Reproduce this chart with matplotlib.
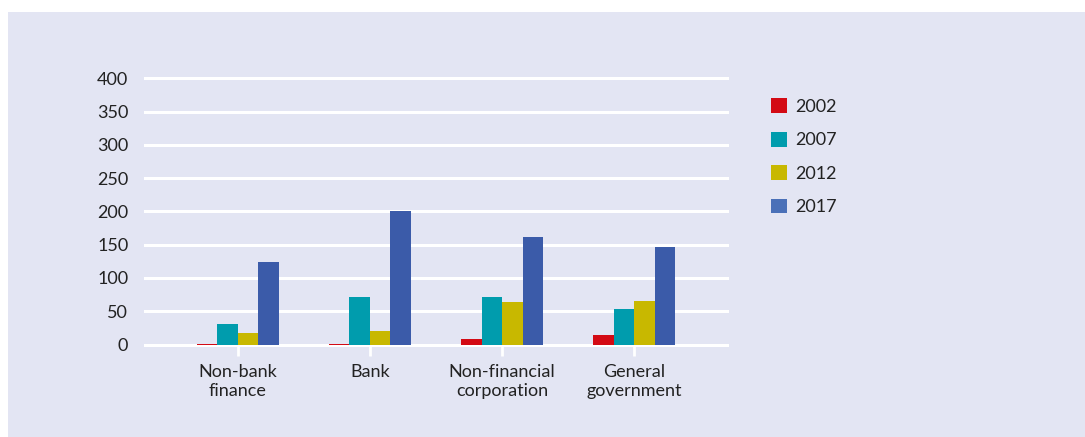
import matplotlib
matplotlib.use("Agg")
import matplotlib.pyplot as plt
from matplotlib.patches import Rectangle, Patch
import numpy as np

categories = ["Non-bank\nfinance", "Bank", "Non-financial\ncorporation", "General\ngovernment"]
years = ["2002", "2007", "2012", "2017"]
v2002 = [0.1, 0.1, 8, 14]
v2007 = [31, 71, 71, 53]
v2012 = [17, 20, 64, 65]
v2017 = [124, 201, 162, 147]
yticks = [0, 50, 100, 150, 200, 250, 300, 350, 400]

colors = ["#D30A14", "#009CAD", "#C8B800", "#3B5BA9"]
legend_colors = ["#D30A14", "#009CAD", "#C8B800", "#4A70B8"]
bg = "#E3E5F3"
txt = "#222222"

plt.rcParams['font.family'] = ['Lato', 'DejaVu Sans']
fs = 13

W, H = 1085, 437
fig = plt.figure(figsize=(W / 100, H / 100), dpi=100)
fig.patch.set_facecolor("white")
fig.add_artist(Rectangle((8 / W, 0), 1 - 8 / W, 1 - 12 / H, transform=fig.transFigure,
                         facecolor=bg, edgecolor="none", zorder=0))

y0, y400 = 344.5, 78.5
ax = fig.add_axes([145 / W, (H - y0) / H, (727 - 145) / W, (y0 - y400) / H])
ax.set_facecolor(bg)
ax.patch.set_alpha(0)
for s in ax.spines.values():
    s.set_visible(False)

series = [v2002, v2007, v2012, v2017]
x = np.arange(len(categories))
bw = 0.155
for i, (vals, c) in enumerate(zip(series, colors)):
    ax.bar(x + (i - 1.5) * bw, vals, width=bw, color=c, zorder=3)

ax.set_xlim(-0.70, 3.70)
ax.set_ylim(0, 400)
ax.set_yticks(yticks)
ax.set_yticklabels([str(t) for t in yticks])
ax.yaxis.grid(True, color="white", linewidth=2.2, zorder=1)
ax.set_axisbelow(True)
for gl in ax.get_ygridlines():
    gl.set_clip_on(False)
ax.tick_params(axis="y", length=0, pad=12, labelsize=fs, labelcolor=txt)
ax.set_xticks(x)
ax.set_xticklabels(categories, linespacing=1.2)
ax.tick_params(axis="x", direction="out", length=8, width=2, color="white",
               pad=6, labelsize=fs, labelcolor=txt)

handles = [Patch(facecolor=c, edgecolor="none") for c in legend_colors]
fig.legend(handles, years, loc="upper left", bbox_to_anchor=(757 / W, 1 - 84 / H),
           frameon=False, fontsize=fs, handlelength=0.88, handleheight=0.88,
           handletextpad=0.45, labelspacing=0.93, labelcolor=txt, borderpad=0.3)

fig.savefig("out.png", dpi=100, facecolor=fig.get_facecolor())
